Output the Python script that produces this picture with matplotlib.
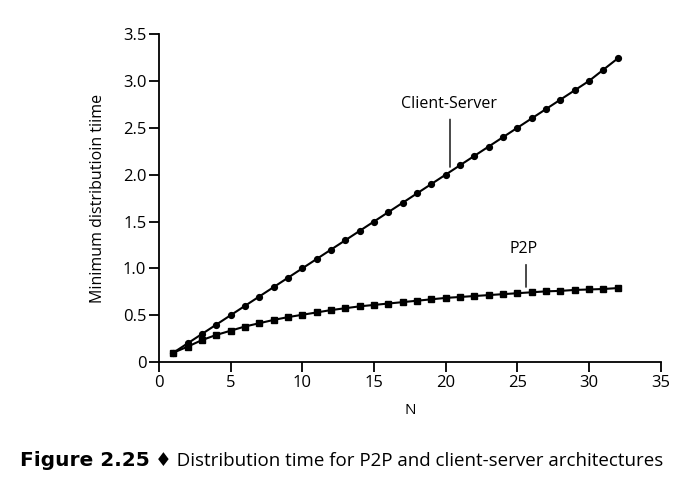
import matplotlib
matplotlib.use("Agg")
import matplotlib.pyplot as plt

plt.rcParams['font.family'] = ['Open Sans', 'DejaVu Sans']

N = list(range(1, 33))
client_server = [0.1, 0.2, 0.3, 0.4, 0.5, 0.6, 0.7, 0.8, 0.9, 1.0,
                 1.1, 1.2, 1.3, 1.4, 1.5, 1.6, 1.7, 1.8, 1.9, 2.0,
                 2.1, 2.2, 2.3, 2.4, 2.5, 2.6, 2.7, 2.8, 2.9, 3.0,
                 3.12, 3.24]
p2p = [0.1, 0.165, 0.235, 0.29, 0.335, 0.38, 0.415, 0.45, 0.48, 0.505,
       0.53, 0.555, 0.575, 0.595, 0.61, 0.625, 0.64, 0.655, 0.67, 0.685,
       0.695, 0.705, 0.715, 0.725, 0.735, 0.745, 0.755, 0.76, 0.77, 0.775,
       0.78, 0.79]
xticks = [0, 5, 10, 15, 20, 25, 30, 35]
yticks = [0, 0.5, 1.0, 1.5, 2.0, 2.5, 3.0, 3.5]
yticklabels = ['0', '0.5', '1.0', '1.5', '2.0', '2.5', '3.0', '3.5']

fig = plt.figure(figsize=(7, 4.79), dpi=100)
ax = fig.add_axes([0.227, 0.244, 0.717, 0.685])

ax.plot(N, client_server, color='black', lw=1.5, marker='o', ms=4.2)
ax.plot(N, p2p, color='black', lw=1.5, marker='s', ms=4.0)

ax.set_xlim(0, 35)
ax.set_ylim(0, 3.5)
ax.set_xticks(xticks)
ax.set_yticks(yticks)
ax.set_yticklabels(yticklabels)
for s in ['top', 'right']:
    ax.spines[s].set_visible(False)
for s in ['left', 'bottom']:
    ax.spines[s].set_linewidth(1.3)
ax.tick_params(direction='out', length=7, width=1.3, labelsize=12, pad=2)
ax.set_xlabel('N', fontsize=11, labelpad=9)
ax.set_ylabel('Minimum distributioin tiime', fontsize=11.5, labelpad=12)

# annotations
ax.annotate('', xy=(20.3, 2.05), xytext=(20.3, 2.62),
            arrowprops=dict(arrowstyle='-', color='black', lw=1.0))
ax.text(20.2, 2.67, 'Client-Server', ha='center', va='bottom', fontsize=11.5)
ax.annotate('', xy=(25.6, 0.77), xytext=(25.6, 1.07),
            arrowprops=dict(arrowstyle='-', color='black', lw=1.0))
ax.text(25.4, 1.12, 'P2P', ha='center', va='bottom', fontsize=11.5)

fig.text(0.028, 0.027, 'Figure 2.25', fontsize=14.5, fontweight='bold',
         family=['DejaVu Sans'], ha='left', va='baseline')
fig.text(0.222, 0.027, '\u2666 Distribution time for P2P and client-server architectures',
         fontsize=13.5, ha='left', va='baseline')

fig.savefig('out.png', dpi=100)
